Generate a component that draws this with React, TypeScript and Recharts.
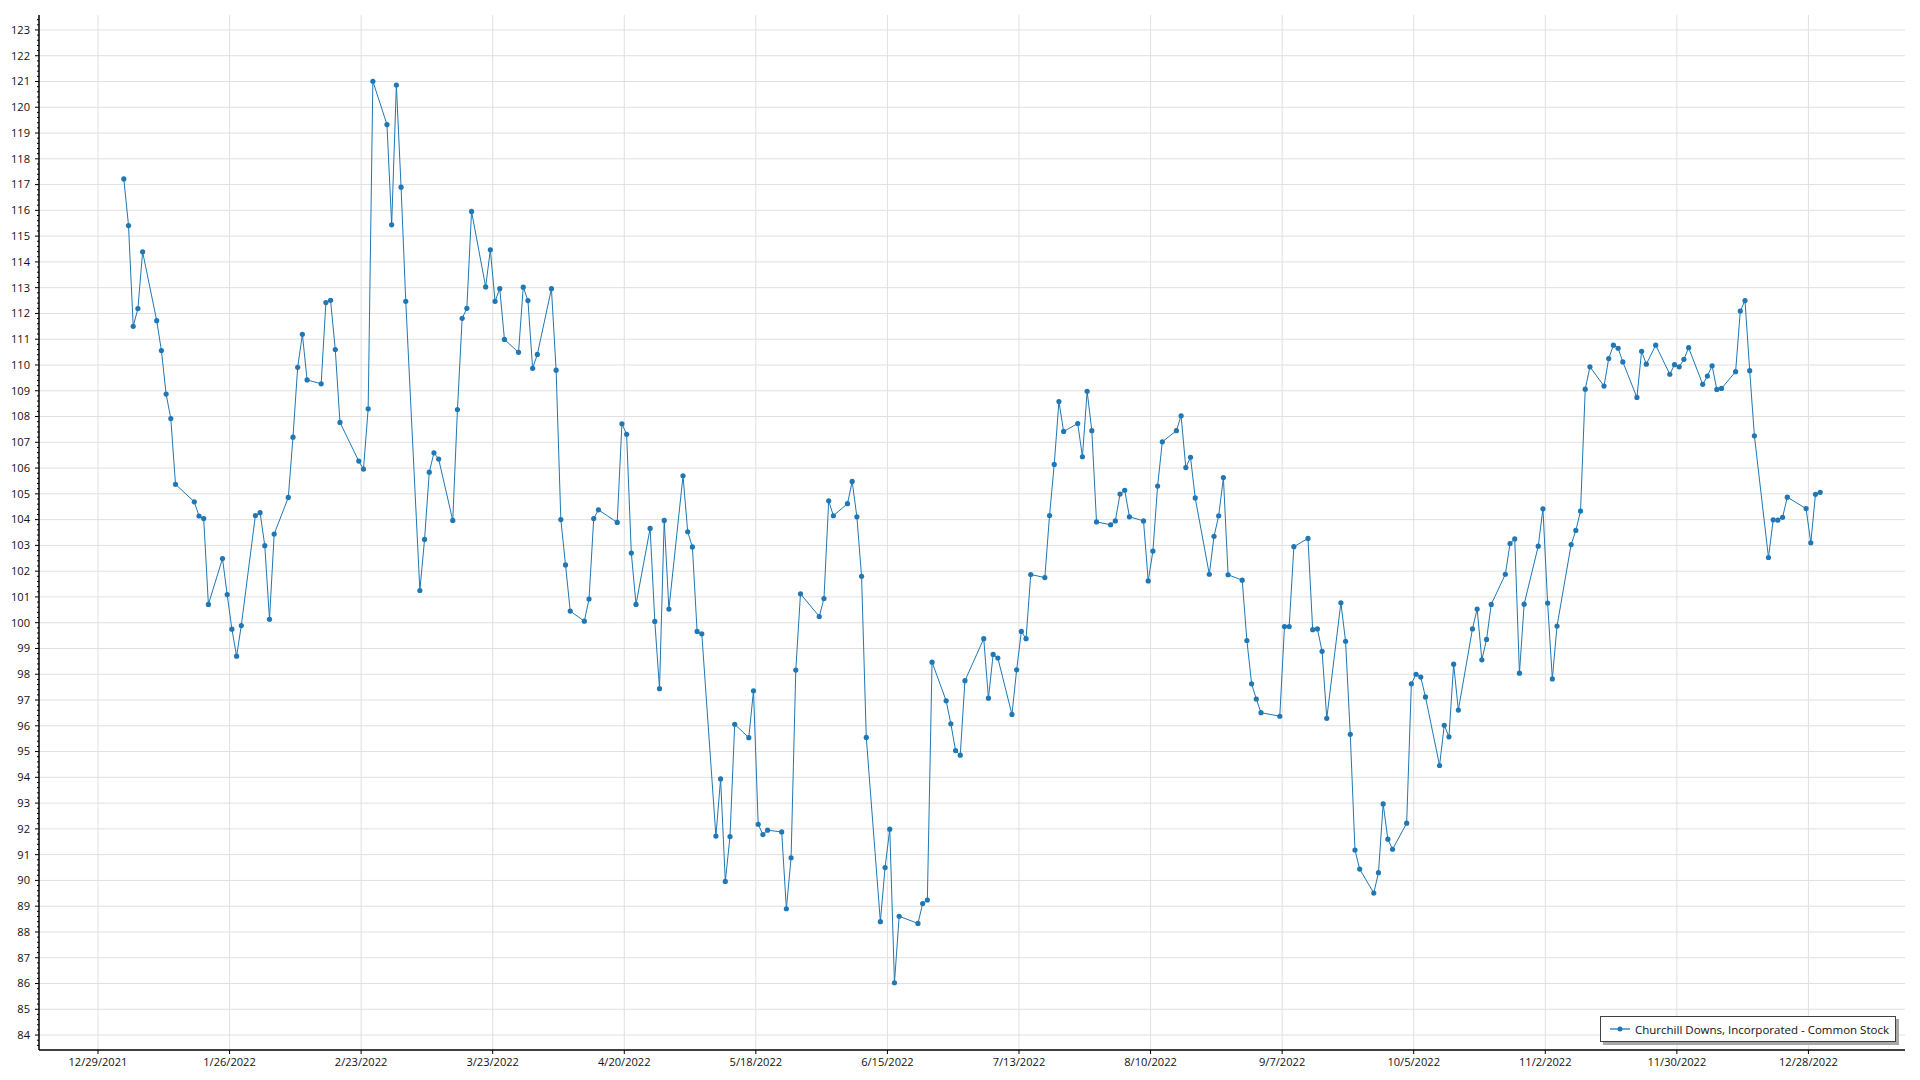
import React from 'react';
import { LineChart, Line, XAxis, YAxis, CartesianGrid } from 'recharts';

const SERIES_NAME = 'Churchill Downs, Incorporated - Common Stock';
const LINE_COLOR = '#1f77b4';
const FONT = '"Open Sans", "Noto Sans", sans-serif';

// Trading days (day of month) and closing prices, 2022
const janDays = [3, 4, 5, 6, 7, 10, 11, 12, 13, 14, 18, 19, 20, 21, 24, 25, 26, 27, 28, 31];
const janClose = [117.22, 115.41, 111.5, 112.19, 114.39, 111.72, 110.56, 108.87, 107.92, 105.37, 104.69, 104.14, 104.04, 100.71, 102.49, 101.09, 99.75, 98.7, 99.89, 104.16];
const febDays = [1, 2, 3, 4, 7, 8, 9, 10, 11, 14, 15, 16, 17, 18, 22, 23, 24, 25, 28];
const febClose = [104.27, 102.99, 100.13, 103.44, 104.86, 107.2, 109.91, 111.19, 109.42, 109.27, 112.42, 112.51, 110.6, 107.77, 106.27, 105.96, 108.3, 121.01, 119.33];
const marDays = [1, 2, 3, 4, 7, 8, 9, 10, 11, 14, 15, 16, 17, 18, 21, 22, 23, 24, 25, 28, 29, 30, 31];
const marClose = [115.44, 120.86, 116.9, 112.47, 101.25, 103.23, 105.84, 106.59, 106.35, 103.97, 108.27, 111.81, 112.2, 115.96, 113.03, 114.47, 112.47, 112.96, 110.99, 110.49, 113.02, 112.5, 109.87];
const aprDays = [1, 4, 5, 6, 7, 8, 11, 12, 13, 14, 18, 19, 20, 21, 22, 25, 26, 27, 28, 29];
const aprClose = [110.41, 112.96, 109.8, 104.0, 102.24, 100.45, 100.06, 100.92, 104.04, 104.38, 103.89, 107.72, 107.31, 102.7, 100.71, 103.66, 100.05, 97.44, 103.97, 100.53];
const mayDays = [2, 3, 4, 5, 6, 9, 10, 11, 12, 13, 16, 17, 18, 19, 20, 23, 24, 25, 26, 27, 31];
const mayClose = [105.7, 103.53, 102.94, 99.66, 99.57, 91.72, 93.94, 89.96, 91.7, 96.06, 95.54, 97.36, 92.18, 91.78, 91.95, 91.88, 88.9, 90.88, 98.16, 101.12, 100.24];
const junDays = [1, 2, 3, 6, 7, 8, 9, 10, 13, 14, 15, 16, 17, 21, 22, 23, 24, 27, 28, 29, 30];
const junClose = [100.94, 104.73, 104.15, 104.62, 105.48, 104.11, 101.8, 95.55, 88.4, 90.5, 91.99, 86.03, 88.61, 88.33, 89.1, 89.24, 98.47, 96.97, 96.08, 95.04, 94.86];
const julDays = [1, 5, 6, 7, 8, 11, 12, 13, 14, 15, 18, 19, 20, 21, 22, 25, 26, 27, 28, 29];
const julClose = [97.75, 99.38, 97.07, 98.77, 98.63, 96.44, 98.17, 99.66, 99.38, 101.87, 101.75, 104.16, 106.14, 108.58, 107.42, 107.73, 106.44, 108.98, 107.45, 103.91];
const augDays = [1, 2, 3, 4, 5, 8, 9, 10, 11, 12, 15, 16, 17, 18, 19, 22, 23, 24, 25, 26, 29, 30, 31];
const augClose = [103.8, 103.95, 104.99, 105.14, 104.11, 103.95, 101.62, 102.78, 105.3, 107.02, 107.45, 108.03, 106.02, 106.42, 104.84, 101.88, 103.35, 104.15, 105.63, 101.86, 101.65, 99.31, 97.63];
const sepDays = [1, 2, 6, 7, 8, 9, 12, 13, 14, 15, 16, 19, 20, 21, 22, 23, 26, 27, 28, 29, 30];
const sepClose = [97.04, 96.51, 96.37, 99.85, 99.85, 102.95, 103.27, 99.73, 99.76, 98.89, 96.29, 100.77, 99.28, 95.67, 91.18, 90.44, 89.51, 90.3, 92.97, 91.6, 91.21];
const octDays = [3, 4, 5, 6, 7, 10, 11, 12, 13, 14, 17, 18, 19, 20, 21, 24, 25, 26, 27, 28, 31];
const octClose = [92.22, 97.63, 98.0, 97.89, 97.12, 94.46, 96.02, 95.57, 98.39, 96.61, 99.76, 100.53, 98.56, 99.35, 100.71, 101.88, 103.07, 103.25, 98.04, 100.72, 102.97];
const novDays = [1, 2, 3, 4, 7, 8, 9, 10, 11, 14, 15, 16, 17, 18, 21, 22, 23, 25, 28, 29, 30];
const novClose = [104.42, 100.76, 97.82, 99.87, 103.03, 103.58, 104.33, 109.06, 109.93, 109.18, 110.25, 110.77, 110.65, 110.12, 108.74, 110.53, 110.03, 110.77, 109.64, 110.01, 109.93];
const decDays = [1, 2, 5, 6, 7, 8, 9, 12, 13, 14, 15, 16, 19, 20, 21, 22, 23, 27, 28, 29, 30];
const decClose = [110.22, 110.67, 109.25, 109.57, 109.97, 109.05, 109.09, 109.74, 112.09, 112.5, 109.78, 107.25, 102.53, 103.99, 103.98, 104.09, 104.87, 104.43, 103.1, 104.98, 105.06];

const xTickLabels = ['12/29/2021', '1/26/2022', '2/23/2022', '3/23/2022', '4/20/2022', '5/18/2022', '6/15/2022', '7/13/2022', '8/10/2022', '9/7/2022', '10/5/2022', '11/2/2022', '11/30/2022', '12/28/2022'];
const yMin = 84;
const yMax = 123;
const yDomain = [83.42, 123.58];

const monthTable: [number, number[], number[]][] = [
  [1, janDays, janClose], [2, febDays, febClose], [3, marDays, marClose], [4, aprDays, aprClose],
  [5, mayDays, mayClose], [6, junDays, junClose], [7, julDays, julClose], [8, augDays, augClose],
  [9, sepDays, sepClose], [10, octDays, octClose], [11, novDays, novClose], [12, decDays, decClose],
];

const data = monthTable.flatMap(([m, days, closes]) =>
  days.map((d, i) => ({ t: Date.UTC(2022, m - 1, d, 12), close: closes[i] }))
);

const parseLabel = (s: string) => {
  const [m, d, y] = s.split('/').map(Number);
  return Date.UTC(y, m - 1, d);
};
const xTicks = xTickLabels.map(parseLabel);
const tFirst = data[0].t;
const tLast = data[data.length - 1].t;
const tPad = (tLast - tFirst) * 0.05;
const xDomain = [tFirst - tPad, tLast + tPad];

const yTicks: number[] = [];
for (let i = Math.round(yDomain[0] * 5) + 1; i <= Math.floor(yDomain[1] * 5); i++) yTicks.push(i / 5);
const yGrid: number[] = [];
for (let v = yMin; v <= yMax; v++) yGrid.push(v);

const fmtDate = (t: number) => {
  const d = new Date(t);
  return `${d.getUTCMonth() + 1}/${d.getUTCDate()}/${d.getUTCFullYear()}`;
};

const W = 1904;
const H = 1064;
const MARGIN = { top: 7, right: 7, bottom: 0, left: 0 };
const Y_AXIS_W = 31;
const X_AXIS_H = 22;
const AXIS_X = MARGIN.left + Y_AXIS_W;
const AXIS_Y = H - MARGIN.bottom - X_AXIS_H;
const TICK_FONT = 11.1;

const YTick = (props: any) => {
  const v = props.payload.value;
  const y = props.y;
  const major = Math.abs(v - Math.round(v)) < 1e-6;
  return (
    <g>
      <line x1={AXIS_X - (major ? 4 : 2)} x2={AXIS_X} y1={y} y2={y} stroke="#000" strokeWidth={1} />
      {major && (
        <text x={AXIS_X - 9} y={y} dy="0.35em" textAnchor="end" fontSize={TICK_FONT} fontFamily={FONT} fill="#111">
          {Math.round(v)}
        </text>
      )}
    </g>
  );
};

const XTick = (props: any) => {
  const x = props.x;
  return (
    <g>
      <line x1={x} x2={x} y1={AXIS_Y} y2={AXIS_Y + 4} stroke="#000" strokeWidth={1} />
      <text x={x} y={AXIS_Y + 16} textAnchor="middle" fontSize={TICK_FONT} fontFamily={FONT} fill="#111">
        {fmtDate(props.payload.value)}
      </text>
    </g>
  );
};

export default function App() {
  return (
    <div style={{ position: 'relative', width: W, height: H, background: '#fff' }}>
      <LineChart width={W} height={H} data={data} margin={MARGIN}>
        <CartesianGrid stroke="#e0e0e0" horizontalValues={yGrid} verticalValues={xTicks} />
        <XAxis
          dataKey="t"
          type="number"
          domain={xDomain}
          allowDataOverflow
          ticks={xTicks}
          interval={0}
          height={X_AXIS_H}
          tick={<XTick />}
          tickLine={false}
          axisLine={{ stroke: '#000', strokeWidth: 1.5 }}
        />
        <XAxis
          xAxisId="top"
          orientation="top"
          dataKey="t"
          type="number"
          domain={xDomain}
          allowDataOverflow
          height={0}
          tick={false}
          tickLine={false}
          axisLine={{ stroke: '#000', strokeWidth: 1.5 }}
        />
        <YAxis
          type="number"
          domain={yDomain}
          allowDataOverflow
          ticks={yTicks}
          interval={0}
          width={Y_AXIS_W}
          tick={<YTick />}
          tickLine={false}
          axisLine={{ stroke: '#000', strokeWidth: 1.5 }}
        />
        <YAxis
          yAxisId="right"
          orientation="right"
          type="number"
          domain={yDomain}
          allowDataOverflow
          width={0}
          tick={false}
          tickLine={false}
          axisLine={{ stroke: '#000', strokeWidth: 1.5 }}
        />
        <Line
          type="linear"
          dataKey="close"
          name={SERIES_NAME}
          stroke={LINE_COLOR}
          strokeWidth={1}
          dot={{ r: 2.6, fill: LINE_COLOR, stroke: 'none' }}
          activeDot={false}
          isAnimationActive={false}
        />
      </LineChart>
      <div
        style={{
          position: 'absolute',
          left: 1592,
          top: 1008,
          width: 294,
          height: 24,
          border: '1.5px solid #404040',
          boxShadow: '3px 3px 0 #a8a8a8',
          background: '#fff',
          display: 'flex',
          alignItems: 'center',
          fontFamily: FONT,
          fontSize: 11.5,
          color: '#111',
          whiteSpace: 'nowrap',
        }}
      >
        <svg width={20} height={10} style={{ marginLeft: 9, marginRight: 5 }}>
          <line x1={0} x2={20} y1={5} y2={5} stroke={LINE_COLOR} strokeOpacity={0.65} strokeWidth={2} />
          <circle cx={10} cy={5} r={2.5} fill={LINE_COLOR} />
        </svg>
        <span>{SERIES_NAME}</span>
      </div>
    </div>
  );
}
